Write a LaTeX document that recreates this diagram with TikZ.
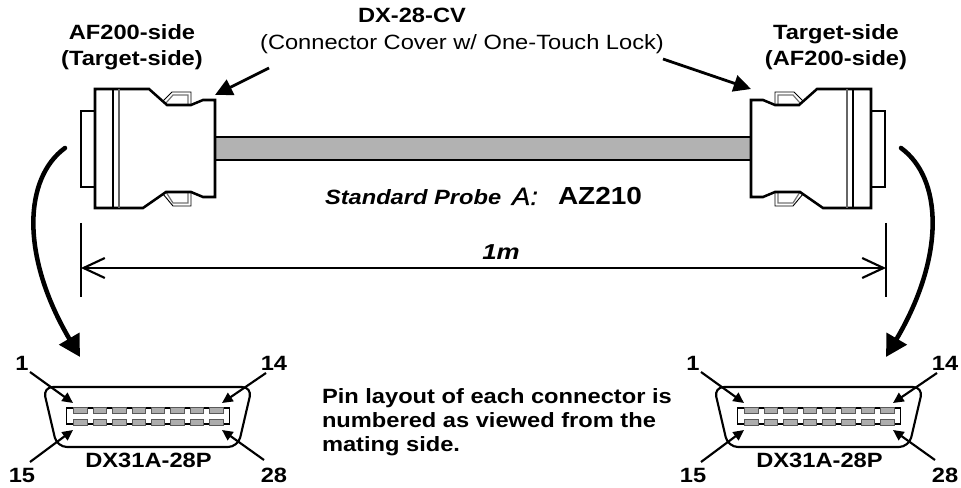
\documentclass[tikz,border=0pt]{standalone}
\usepackage{fontspec}
\setmainfont{Liberation Sans}
\newfontfamily\heavyital[ItalicFont={Liberation Sans Italic},ItalicFeatures={FakeBold=0.6}]{Liberation Sans}
\usetikzlibrary{arrows.meta}
\tikzset{
  plain/.style={inner sep=0pt,outer sep=0pt,text=black,transform shape},
  txt/.style={plain,xscale=1.145,font=\fontsize{15.5}{19.5}\selectfont},
  btxt/.style={plain,xscale=1.145,font=\fontsize{15.5}{19.5}\selectfont\bfseries},
  body/.style={draw=black,line width=1.9pt,line join=miter,fill=white},
  thinl/.style={draw=black,line width=1.1pt},
  clipo/.style={draw=black,line width=.7pt},
  clipi/.style={draw=black!55,line width=.9pt},
  callout/.style={draw=black,line width=2.1pt,-{Triangle[length=13pt,width=12.5pt]}},
  swing/.style={draw=black,line width=3.4pt,line cap=round,-{Triangle[length=16pt,width=17pt]}},
  pinarrow/.style={draw=black,line width=1.6pt,-{Triangle[length=8pt,width=7.5pt]}},
  dim/.style={draw=black,line width=1.5pt},
  pin/.style={draw=black!65,line width=.5pt,fill=black!32},
  cablef/.style={fill=black!30,draw=none},
}
\newcommand{\CoverEnd}[2]{% #1 = mirror factor, #2 = x shift
\begin{scope}[xshift=#2*.75pt,xscale=#1]
  \draw[line width=1.1pt,fill=white] (95,111) -- (81,111) -- (81,187) -- (95,187);
  \draw[clipo] (162,102) -- (172,92) -- (191,92) -- (191,106);
  \draw[clipi] (166,103) -- (173,95) -- (188,95) -- (188,106);
  \draw[clipo] (163,194) -- (173,206) -- (191,206) -- (191,191);
  \draw[clipi] (166,192) -- (173,203) -- (188,203) -- (188,191);
  \draw[body] (95,89) -- (149,89) -- (167,105) -- (191,105) -- (203,100) -- (215,100)
     -- (215,197) -- (203,197) -- (191,192) -- (166,192) -- (143,208) -- (95,208) -- cycle;
  \draw[thinl] (113,89) -- (113,208);
  \draw[draw=black!60,line width=1.5pt] (119,89) -- (119,208);
\end{scope}}
\newcommand{\PinFace}[1]{% #1 = x offset
\begin{scope}[xshift=#1*.75pt]
  \draw[line width=1.6pt,rounded corners=7.5pt] (43,387) -- (252,387) -- (238,447) -- (57,447) -- cycle;
  \draw[line width=1.1pt] (66.5,408) rectangle (229.5,424);
  \foreach \i in {0,...,7}{
    \draw[pin] ({73.5+19.45*\i},407) rectangle ++(13.5,6);
    \draw[pin] ({73.5+19.45*\i},419) rectangle ++(13.5,6);
  }
\end{scope}}
\begin{document}
\begin{tikzpicture}[x=.75pt,y=-.75pt]
\useasboundingbox (0,0) rectangle (961,488);
% cable
\fill[cablef] (215,137) rectangle (751,160);
\draw[line width=1.9pt] (215,137) -- (751,137);
\draw[line width=1.9pt] (215,160) -- (751,160);
\CoverEnd{1}{0}
\CoverEnd{-1}{966}
% heading texts
\node[btxt,align=center] (afl) at (132,47) {AF200-side\\(Target-side)};
\node[btxt,align=center] (tgr) at (836,47) {Target-side\\(AF200-side)};
\node[btxt,anchor=base] (cv) at (412,23) {DX-28-CV};
\node[txt,anchor=base] (cvd) at (462,50) {(Connector Cover w/ One-Touch Lock)};
% callouts
\coordinate (cl0) at (269,68); \coordinate (cl1) at (215,95);
\coordinate (cr0) at (663,59); \coordinate (cr1) at (751,89);
\draw[callout] (cl0) -- (cl1);
\draw[callout] (cr0) -- (cr1);
% middle labels
\node[btxt,anchor=base west,font=\fontsize{15.5}{17}\selectfont\bfseries\itshape] (std) at (325,205) {Standard Probe};
\node[plain,anchor=base west,xscale=1.1,font=\fontsize{18.75}{24}\selectfont\heavyital\itshape] (aa) at (512,205) {A:};
\node[plain,anchor=base west,xscale=1.135,font=\fontsize{18.5}{24}\selectfont\bfseries] (az) at (558,205) {AZ210};
\node[plain,anchor=base,xscale=1.2,font=\fontsize{16.2}{18}\selectfont\bfseries\itshape] (len) at (501,260) {1m};
% dimension
\coordinate (dl) at (81,268); \coordinate (dr) at (886,268);
\draw[dim] (81,223) -- (81,297);
\draw[dim] (886,223) -- (886,297);
\draw[dim,{Straight Barb[length=16pt,width=15pt,line width=1.6pt]}-{Straight Barb[length=16pt,width=15pt,line width=1.6pt]}] (dl) -- (dr);
% swing arrows
\coordinate (sl0) at (65,148); \coordinate (sl1) at (80,357);
\coordinate (sr0) at (901,148); \coordinate (sr1) at (886,357);
\draw[swing] (sl0) .. controls (24,178) and (20,255) .. (sl1);
\draw[swing] (sr0) .. controls (942,178) and (946,255) .. (sr1);
% pin faces
\PinFace{0}
\PinFace{671}
% left pin labels
\node[btxt,anchor=base] (la) at (22,371) {1};
\node[btxt,anchor=base] (lb) at (274,371) {14};
\node[btxt,anchor=base] (lc) at (22,482) {15};
\node[btxt,anchor=base] (ld) at (274,482) {28};
\node[btxt,anchor=base] (lm) at (148.5,467) {DX31A-28P};
\coordinate (a0) at (30,372); \coordinate (a1) at (73,403);
\coordinate (b0) at (266,373); \coordinate (b1) at (222,403);
\coordinate (c0) at (30,462); \coordinate (c1) at (73,430);
\coordinate (d0) at (264,460); \coordinate (d1) at (222,430);
\draw[pinarrow] (a0) -- (a1);
\draw[pinarrow] (b0) -- (b1);
\draw[pinarrow] (c0) -- (c1);
\draw[pinarrow] (d0) -- (d1);
% right pin labels
\node[btxt,anchor=base] (ra) at (693,371) {1};
\node[btxt,anchor=base] (rb) at (945,371) {14};
\node[btxt,anchor=base] (rc) at (693,482) {15};
\node[btxt,anchor=base] (rd) at (945,482) {28};
\node[btxt,anchor=base] (rm) at (819.5,467) {DX31A-28P};
\coordinate (e0) at (701,372); \coordinate (e1) at (744,403);
\coordinate (f0) at (937,373); \coordinate (f1) at (893,403);
\coordinate (g0) at (701,462); \coordinate (g1) at (744,430);
\coordinate (h0) at (935,460); \coordinate (h1) at (893,430);
\draw[pinarrow] (e0) -- (e1);
\draw[pinarrow] (f0) -- (f1);
\draw[pinarrow] (g0) -- (g1);
\draw[pinarrow] (h0) -- (h1);
% note
\node[btxt,anchor=west,align=left,font=\fontsize{15.5}{18}\selectfont\bfseries] (note) at (322,422) {Pin layout of each connector is\\numbered as viewed from the\\mating side.};
\end{tikzpicture}
\end{document}
